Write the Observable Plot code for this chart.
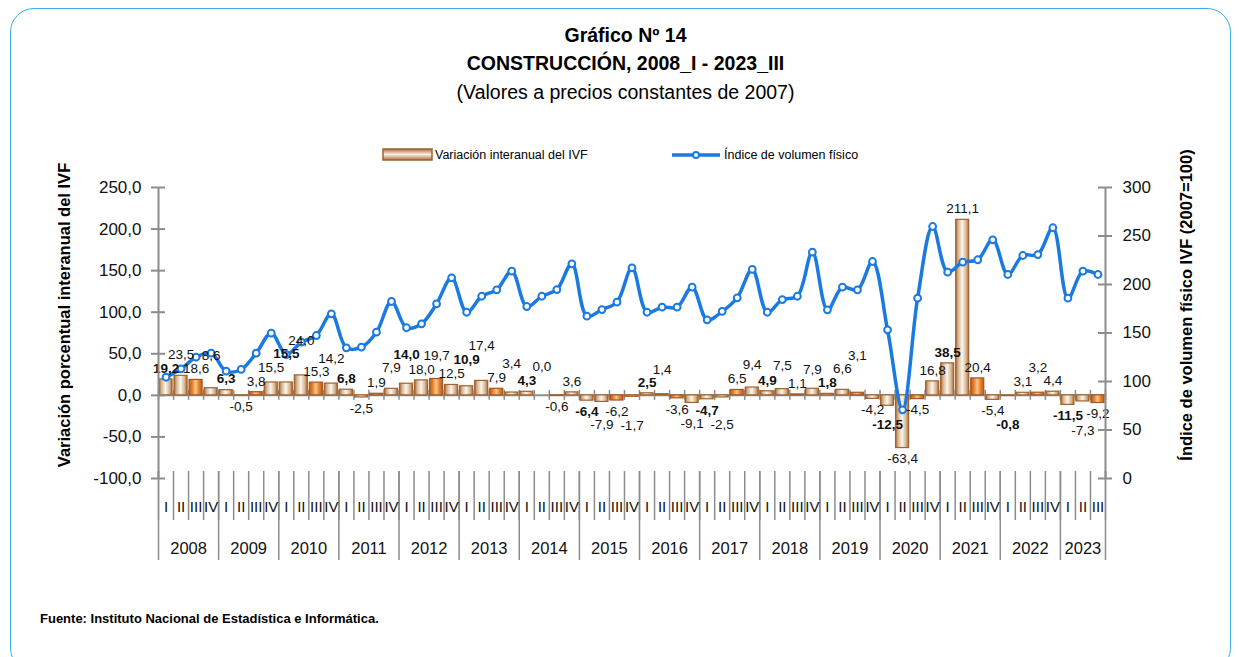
<!DOCTYPE html>
<html><head><meta charset="utf-8">
<script src="https://cdn.jsdelivr.net/npm/d3@7"></script>
<script src="https://cdn.jsdelivr.net/npm/@observablehq/plot@0.6"></script>
<style>
body{margin:0;background:#fff;font-family:"Liberation Sans",Arial,sans-serif;color:#000;}
#wrap{position:relative;width:1239px;height:657px;overflow:hidden;background:#fff;}
#frame{position:absolute;left:10px;top:8px;width:1221px;height:664px;border:1.5px solid #3aaee6;border-radius:24px;box-sizing:border-box;}
.t{position:absolute;left:0;width:1251px;text-align:center;font-size:19.5px;line-height:22px;white-space:nowrap;}
.b{font-weight:bold;}
#chart{position:absolute;left:0;top:0;}
.leg{position:absolute;font-size:12.5px;line-height:14px;white-space:nowrap;}
#foot{position:absolute;left:40px;top:611px;font-size:13px;font-weight:bold;line-height:16px;white-space:nowrap;}
</style></head>
<body>
<div id="wrap">
  <div id="frame"></div>
  <div class="t b" style="top:24px">Gráfico Nº 14</div>
  <div class="t b" style="top:52px">CONSTRUCCIÓN, 2008_I - 2023_III</div>
  <div class="t" style="top:81px">(Valores a precios constantes de 2007)</div>
  <div id="chart"></div>
  <svg class="leg" style="left:381px;top:147px" width="54" height="16">
    <defs><linearGradient id="lgB" x1="0" y1="0" x2="0" y2="1">
      <stop offset="0" stop-color="#b0703a"/><stop offset="0.5" stop-color="#f7efe6"/><stop offset="1" stop-color="#b0703a"/></linearGradient></defs>
    <rect x="2" y="2" width="49" height="11" fill="url(#lgB)" stroke="#a0622e" stroke-width="1.5"/>
  </svg>
  <div class="leg" style="left:435px;top:148px">Variación interanual del IVF</div>
  <svg class="leg" style="left:670px;top:148px" width="54" height="14">
    <line x1="2" x2="50" y1="7" y2="7" stroke="#1a7ae0" stroke-width="3.5"/>
    <circle cx="26" cy="7" r="3" fill="#fff" stroke="#1a7ae0" stroke-width="2"/>
  </svg>
  <div class="leg" style="left:724px;top:148px">Índice de volumen físico</div>
  <div id="foot">Fuente: Instituto Nacional de Estadística e Informática.</div>
</div>
<script>
// ---- data ----
const years = [2008,2009,2010,2011,2012,2013,2014,2015,2016,2017,2018,2019,2020,2021,2022,2023];
const quarterLabels = ["I","II","III","IV"];
const variacion = [19.2, 23.5, 18.6, 8.6, 6.3, -0.5, 3.8, 15.5, 15.5, 24.0, 15.3, 14.2, 6.8, -2.5, 1.9, 7.9,
  14.0, 18.0, 19.7, 12.5, 10.9, 17.4, 7.9, 3.4, 4.3, 0.0, -0.6, 3.6, -6.4, -7.9, -6.2, -1.7,
  2.5, 1.4, -3.6, -9.1, -4.7, -2.5, 6.5, 9.4, 4.9, 7.5, 1.1, 7.9, 1.8, 6.6, 3.1, -4.2,
  -12.5, -63.4, -4.5, 16.8, 38.5, 211.1, 20.4, -5.4, -0.8, 3.1, 3.2, 4.4, -11.5, -7.3, -9.2];
const indice = [104.4, 113.1, 125.1, 129.2, 110.6, 112.4, 129.2, 149.8, 127.8, 140.5,
  147.4, 169.8, 134.7, 135.4, 150.8, 182.5, 155.4, 159.5, 180.1, 206.9,
  171.4, 187.9, 194.5, 213.7, 177.3, 187.9, 194.8, 221.3, 167.3, 174.2,
  181.8, 217.2, 171.4, 176.6, 176.6, 197.2, 163.6, 172.2, 186.3, 215.5,
  171.4, 184.5, 187.9, 233.3, 173.9, 197.2, 194.5, 223.7, 153.3, 70.8,
  185.9, 259.8, 212.7, 223.0, 225.5, 246.1, 210.3, 229.9, 230.9, 258.5,
  185.9, 213.7, 210.3];
const leftTicks = [-100,-50,0,50,100,150,200,250];
const rightTicks = [0,50,100,150,200,250,300];

// ---- layout ----
const W = 1239, H = 657, ML = 158, MR = 134, MT = 187, MB = 179;
const N = variacion.length;
const yDom = [-100, 250];
const plotH = H - MT - MB, plotW = W - ML - MR;
const yPx = v => MT + (yDom[1] - v) * plotH / (yDom[1] - yDom[0]);
const yVal = p => yDom[1] - (p - MT) * (yDom[1] - yDom[0]) / plotH;
const xPx = x => ML + x * plotW / N;

const toLeft = r => r * 350 / 300 - 100;
const fromLeft = l => (l + 100) * 300 / 350;
const fmt1 = d => d.toFixed(1).replace(".", ",").replace("-0,0", "0,0");
const blue = "#1a7ae0";
const gray = "#8c8c8c";
const FONT = "'Liberation Sans', Arial, sans-serif";
const LFS = 13.5;

const data = variacion.map((v, i) => ({i, v, idx: indice[i], q: i % 4}));

// simple collision avoidance for value labels (moved outward from bar end)
const ctx = document.createElement("canvas").getContext("2d");
const placed = [];
const labels = data.map(d => {
  const bold = d.q === 0;
  ctx.font = `${bold ? "bold " : ""}${LFS}px ${FONT}`;
  const w = ctx.measureText(fmt1(d.v)).width + 1;
  const h = 13;
  const cx = xPx(d.i + 0.5);
  const dir = d.v >= 0 ? -1 : 1;
  let cy = yPx(d.v) + dir * 11;
  const hit = c => placed.some(p => Math.abs(p.cx - cx) < (p.w + w) / 2 && Math.abs(p.cy - c) < (p.h + h) / 2);
  while (hit(cy)) cy += dir * 2;
  placed.push({cx, cy, w, h});
  return {...d, bold, ly: yVal(cy)};
});

const yearInfo = years.map(y => {
  const s = (y - years[0]) * 4, e = Math.min(s + 4, N);
  return {y, c: (s + e) / 2};
});
const yearBounds = d3.range(0, N, 4).concat([N]);

const chart = Plot.plot({
  width: W, height: H,
  marginLeft: ML, marginRight: MR, marginTop: MT, marginBottom: MB,
  style: {background: "transparent", fontFamily: FONT, overflow: "visible", color: "#111"},
  x: {domain: [0, N], axis: null},
  y: {domain: yDom, axis: null},
  marks: [
    Plot.ruleY([0], {stroke: gray, strokeWidth: 2}),
    Plot.ruleX(d3.range(0, N + 1), {x: d => d, y1: 0, y2: 0, insetTop: -5, insetBottom: -5, stroke: gray, strokeWidth: 1.5}),
    Plot.rectY(data.filter(d => d.q !== 2), {x1: "i", x2: d => d.i + 1, y1: 0, y2: "v", insetLeft: 1, insetRight: 1, fill: "url(#gBeige)", stroke: "#a0622e", strokeWidth: 1.2}),
    Plot.rectY(data.filter(d => d.q === 2), {x1: "i", x2: d => d.i + 1, y1: 0, y2: "v", insetLeft: 1, insetRight: 1, fill: "url(#gOrange)", stroke: "#a0582a", strokeWidth: 1.2}),
    Plot.line(data, {x: d => d.i + 0.5, y: d => toLeft(d.idx), curve: "catmull-rom", stroke: blue, strokeWidth: 3.5}),
    Plot.dot(data, {x: d => d.i + 0.5, y: d => toLeft(d.idx), r: 3.4, fill: "white", stroke: blue, strokeWidth: 2}),
    Plot.text(labels.filter(d => !d.bold), {x: d => d.i + 0.5, y: "ly", text: d => fmt1(d.v), fontSize: LFS, fill: "#111"}),
    Plot.text(labels.filter(d => d.bold), {x: d => d.i + 0.5, y: "ly", text: d => fmt1(d.v), fontSize: LFS, fontWeight: "bold", fill: "#111"}),
    // axes lines
    Plot.ruleX([0, N], {x: d => d, y1: -100, y2: 250, stroke: gray, strokeWidth: 2}),
    Plot.ruleY(leftTicks, {y: d => d, x1: 0, x2: 0, insetLeft: -7, insetRight: -7, stroke: gray, strokeWidth: 2}),
    Plot.ruleY(rightTicks.map(toLeft), {y: d => d, x1: N, x2: N, insetLeft: -7, insetRight: -7, stroke: gray, strokeWidth: 2}),
    Plot.axisY(leftTicks, {anchor: "left", label: null, tickSize: 0, tickPadding: 17, tickFormat: fmt1, fontSize: 17}),
    Plot.axisY(rightTicks.map(toLeft), {anchor: "right", label: null, tickSize: 0, tickPadding: 17, tickFormat: d => String(Math.round(fromLeft(d))), fontSize: 17}),
    // category axis
    Plot.ruleX(d3.range(0, N + 1), {x: d => d, y1: -100, y2: -100, insetTop: -7, insetBottom: -42, stroke: gray, strokeWidth: 1.5}),
    Plot.ruleX(yearBounds, {x: d => d, y1: -100, y2: -100, insetTop: -7, insetBottom: -82, stroke: gray, strokeWidth: 1.5}),
    Plot.text(d3.range(0, N), {x: d => d + 0.5, y: -100, dy: 29, text: d => quarterLabels[d % 4], fontSize: 15, fill: "#111"}),
    Plot.text(yearInfo, {x: "c", y: -100, dy: 70, text: d => String(d.y), fontSize: 16.5, fill: "#111"})
  ]
});

const svg = d3.select(chart);
const defs = svg.insert("defs", ":first-child");
const g1 = defs.append("linearGradient").attr("id", "gBeige").attr("x1", 0).attr("x2", 1).attr("y1", 0).attr("y2", 0);
[[0, "#a8672f"], [0.18, "#d6b08a"], [0.5, "#fbf6f0"], [0.82, "#d6b08a"], [1, "#a8672f"]].forEach(([o, c]) => g1.append("stop").attr("offset", o).attr("stop-color", c));
const g2 = defs.append("linearGradient").attr("id", "gOrange").attr("x1", 0).attr("x2", 1).attr("y1", 0).attr("y2", 0);
[[0, "#b85d18"], [0.25, "#e9822a"], [0.5, "#f6c792"], [0.75, "#e9822a"], [1, "#b85d18"]].forEach(([o, c]) => g2.append("stop").attr("offset", o).attr("stop-color", c));

svg.append("text").attr("transform", "translate(66,315) rotate(-90)").attr("text-anchor", "middle").attr("dominant-baseline", "middle")
  .attr("font-size", 16.5).attr("font-weight", "bold").attr("fill", "#000").text("Variación porcentual interanual del IVF");
svg.append("text").attr("transform", "translate(1188,305) rotate(-90)").attr("text-anchor", "middle").attr("dominant-baseline", "middle")
  .attr("font-size", 16.5).attr("font-weight", "bold").attr("fill", "#000").text("Índice de volumen físico IVF (2007=100)");

document.getElementById("chart").appendChild(chart);
</script>
</body></html>
